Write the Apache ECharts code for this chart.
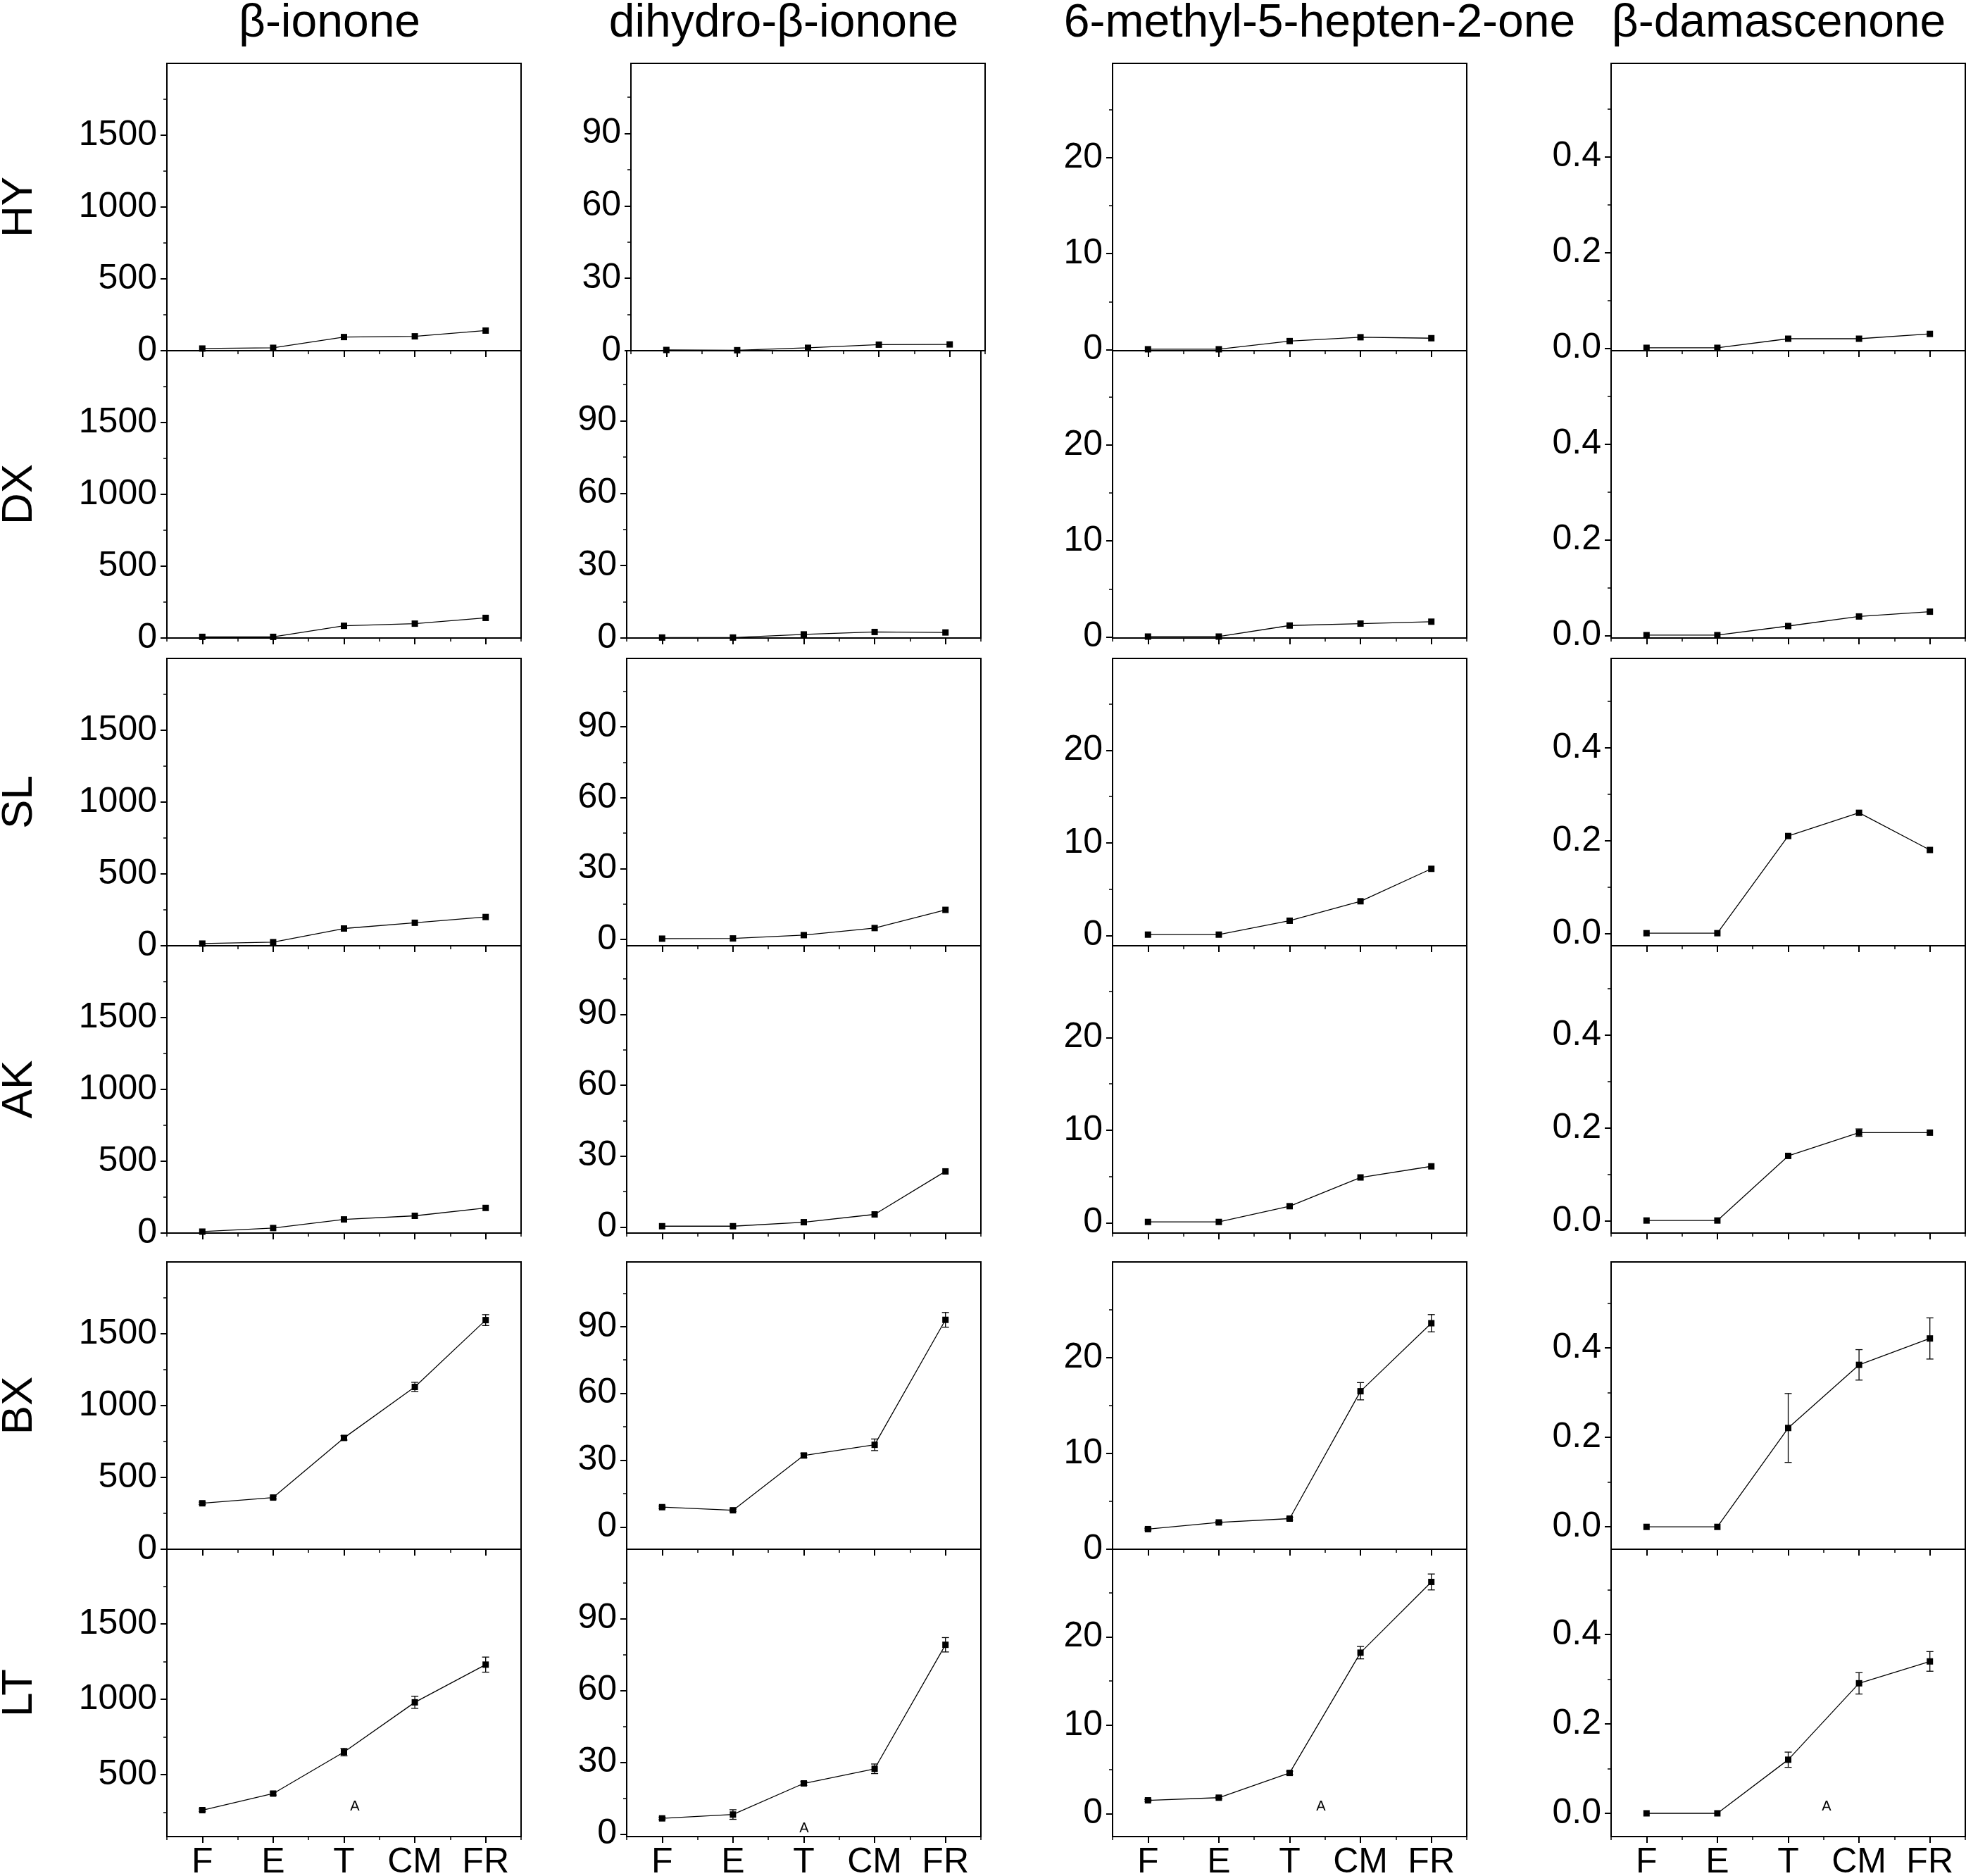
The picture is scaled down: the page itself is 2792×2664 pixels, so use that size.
<!DOCTYPE html>
<html>
<head>
<meta charset="utf-8">
<script src="https://cdn.jsdelivr.net/npm/echarts@6/dist/echarts.min.js"></script>
<style>
html, body { margin: 0; padding: 0; background: #fff; }
#container { width: 2792px; height: 2664px; }
</style>
</head>
<body>
<div id="container"></div>
<script>
var categories = ['F', 'E', 'T', 'CM', 'FR'];
var compounds = ['β-ionone', 'dihydro-β-ionone', '6-methyl-5-hepten-2-one', 'β-damascenone'];
var regions = ['HY', 'DX', 'SL', 'AK', 'BX', 'LT'];

// one row per region, same order as regions
var betaIonone = [
  [15, 20, 95, 100, 140],
  [8, 8, 85, 100, 140],
  [15, 25, 120, 160, 200],
  [10, 35, 95, 120, 175],
  [320, 360, 775, 1130, 1595],
  [265, 375, 650, 980, 1230]
];
var betaIononeErr = [
  [0, 0, 0, 0, 0],
  [0, 0, 0, 0, 0],
  [0, 0, 0, 0, 0],
  [0, 0, 0, 0, 0],
  [8, 10, 15, 32, 38],
  [8, 10, 25, 40, 50]
];

var dihydroIonone = [
  [0.3, 0.2, 1.2, 2.5, 2.6],
  [0.2, 0.2, 1.5, 2.5, 2.3],
  [0.3, 0.4, 1.8, 4.8, 12.5],
  [0.3, 0.3, 2.0, 5.3, 23.5],
  [8.9, 7.5, 32.1, 36.9, 93],
  [6.6, 8.2, 21.2, 27.3, 79.1]
];
var dihydroIononeErr = [
  [0, 0, 0, 0, 0],
  [0, 0, 0, 0, 0],
  [0, 0, 0, 0, 0],
  [0, 0, 0, 0, 0],
  [0.5, 0.5, 1, 2.6, 3.3],
  [0.5, 2, 0.8, 2, 3]
];

var methylHeptenone = [
  [0.05, 0.05, 0.9, 1.3, 1.2],
  [0.05, 0.05, 1.2, 1.4, 1.6],
  [0.1, 0.1, 1.6, 3.7, 7.2],
  [0.1, 0.1, 1.8, 4.9, 6.1],
  [2.1, 2.8, 3.2, 16.5, 23.6],
  [1.5, 1.8, 4.6, 18.2, 26.2]
];
var methylHeptenoneErr = [
  [0, 0, 0, 0, 0],
  [0, 0, 0, 0, 0],
  [0, 0, 0, 0, 0],
  [0, 0, 0, 0, 0],
  [0.1, 0.1, 0.15, 0.9, 0.9],
  [0.1, 0.1, 0.2, 0.7, 0.9]
];

var damascenone = [
  [0.001, 0.001, 0.02, 0.02, 0.03],
  [0.001, 0.001, 0.02, 0.04, 0.05],
  [0.001, 0.001, 0.21, 0.26, 0.18],
  [0.001, 0.001, 0.14, 0.19, 0.19],
  [0, 0, 0.221, 0.362, 0.421],
  [0, 0, 0.12, 0.291, 0.34]
];
var damascenoneErr = [
  [0, 0, 0, 0, 0],
  [0, 0, 0, 0, 0],
  [0, 0, 0, 0, 0],
  [0, 0, 0, 0.008, 0],
  [0, 0, 0.077, 0.034, 0.046],
  [0, 0, 0.017, 0.024, 0.022]
];

var yTicks = [[0, 500, 1000, 1500], [0, 30, 60, 90], [0, 10, 20], [0, 0.2, 0.4]];
var yMinorTicks = [[250, 750, 1250, 1750], [15, 45, 75, 105], [5, 15, 25], [0.1, 0.3, 0.5]];
// axis ranges per compound, one entry per region
var yMin = [
  [0, 0, 0, 0, 0, 90],
  [0, 0, -2.7, -2.6, -10, -1],
  [-0.1, -0.1, -1.1, -1.1, 0, -2.6],
  [-0.005, -0.005, -0.026, -0.026, -0.05, -0.052]
];
var yMax = [
  [2000, 2000, 2000, 2000, 2000, 1995],
  [119, 119, 119, 119, 119, 119],
  [29.8, 29.8, 29.9, 29.9, 30, 29.9],
  [0.595, 0.595, 0.592, 0.592, 0.592, 0.591]
];

var means = [betaIonone, dihydroIonone, methylHeptenone, damascenone];
var errs = [betaIononeErr, dihydroIononeErr, methylHeptenoneErr, damascenoneErr];

// layout
var colLeft = [237, 890, 1580, 2288];
var rowTop = [90, 498, 935, 1343, 1792, 2200];
var panelW = 503, panelH = 408;
var font = 'Liberation Sans, Arial, sans-serif';

function renderErr(params, api) {
  var x = api.value(0);
  var lo = api.coord([x, api.value(1)]);
  var hi = api.coord([x, api.value(2)]);
  var w = 5;
  var st = { stroke: '#000', lineWidth: 1.3 };
  return {
    type: 'group',
    children: [
      { type: 'line', shape: { x1: lo[0], y1: lo[1], x2: hi[0], y2: hi[1] }, style: st },
      { type: 'line', shape: { x1: lo[0] - w, y1: lo[1], x2: lo[0] + w, y2: lo[1] }, style: st },
      { type: 'line', shape: { x1: hi[0] - w, y1: hi[1], x2: hi[0] + w, y2: hi[1] }, style: st }
    ]
  };
}

var grids = [], xAxes = [], yAxes = [], series = [], graphics = [];

for (var c = 0; c < 4; c++) {
  for (var r = 0; r < 6; r++) {
    var p = grids.length;
    var left = colLeft[c] + (c === 1 && r === 0 ? 6 : 0);
    grids.push({
      left: left, top: rowTop[r], width: panelW, height: panelH,
      containLabel: false, outerBoundsMode: 'none',
      show: true, borderColor: '#000', borderWidth: 2, backgroundColor: 'transparent'
    });
    var lo = yMin[c][r], hi = yMax[c][r];
    var major = yTicks[c].filter(function (v) { return v >= lo && v <= hi; });
    var minor = yMinorTicks[c].filter(function (v) { return v >= lo && v <= hi; });
    var dec = c === 3 ? 1 : 0;

    xAxes.push({
      type: 'category', gridIndex: p, data: categories, position: 'bottom',
      boundaryGap: true,
      axisLine: { show: true, onZero: false, lineStyle: { color: '#000', width: 2 } },
      axisTick: { show: true, alignWithLabel: true, interval: 0, length: 9, lineStyle: { color: '#000', width: 2 } },
      axisLabel: { show: r === 5, interval: 0, margin: 12, color: '#000', fontSize: 50, fontFamily: font },
      splitLine: { show: false }
    });
    xAxes.push({
      type: 'category', gridIndex: p, data: categories, position: 'bottom',
      boundaryGap: true,
      axisLine: { show: false, onZero: false },
      axisTick: { show: true, interval: 0, length: 5, lineStyle: { color: '#000', width: 1.5 } },
      axisLabel: { show: false },
      splitLine: { show: false }
    });
    yAxes.push({
      type: 'value', gridIndex: p, position: 'left', min: lo, max: hi,
      axisLine: { show: true, lineStyle: { color: '#000', width: 2 } },
      axisTick: { show: true, length: 9, customValues: major, lineStyle: { color: '#000', width: 2 } },
      axisLabel: {
        show: true, margin: 14, color: '#000', fontSize: 50, fontFamily: font,
        customValues: major,
        formatter: (function (d) { return function (v) { return v.toFixed(d); }; })(dec)
      },
      splitLine: { show: false }
    });
    yAxes.push({
      type: 'value', gridIndex: p, position: 'left', min: lo, max: hi,
      axisLine: { show: false },
      axisTick: { show: true, length: 5, customValues: minor, lineStyle: { color: '#000', width: 1.5 } },
      axisLabel: { show: false, customValues: minor },
      splitLine: { show: false }
    });

    series.push({
      type: 'line', xAxisIndex: 2 * p, yAxisIndex: 2 * p,
      data: means[c][r],
      symbol: 'rect', symbolSize: 9, clip: false,
      itemStyle: { color: '#000' },
      lineStyle: { color: '#000', width: 1.3 },
      animation: false, z: 3
    });

    var errData = [];
    for (var i = 0; i < categories.length; i++) {
      var e = errs[c][r][i];
      if (e > 0) errData.push([i, means[c][r][i] - e, means[c][r][i] + e]);
    }
    if (errData.length) {
      series.push({
        type: 'custom', xAxisIndex: 2 * p, yAxisIndex: 2 * p,
        renderItem: renderErr, data: errData,
        encode: { x: 0, y: [1, 2] }, animation: false, z: 4
      });
    }
  }
}

var titleX = [468, 1113, 1874, 2526];
compounds.forEach(function (name, c) {
  graphics.push({
    type: 'text', x: titleX[c], y: 34,
    style: { text: name, fill: '#000', fontSize: 66, fontFamily: font, align: 'center', verticalAlign: 'middle' }
  });
});
regions.forEach(function (name, r) {
  graphics.push({
    type: 'text', x: 28, y: rowTop[r] + panelH / 2, rotation: Math.PI / 2,
    style: { text: name, fill: '#000', fontSize: 62, fontFamily: font, align: 'center', verticalAlign: 'middle' }
  });
});
// stray "A" marks in the bottom row
var stray = [[504, 2565], [1142, 2596], [1876, 2565], [2594, 2565]];
stray.forEach(function (s) {
  graphics.push({
    type: 'text', x: s[0], y: s[1],
    style: { text: 'A', fill: '#000', fontSize: 20, fontFamily: font, align: 'center', verticalAlign: 'middle' }
  });
});

var option = {
  animation: false,
  backgroundColor: '#fff',
  grid: grids,
  xAxis: xAxes,
  yAxis: yAxes,
  series: series,
  graphic: graphics
};

var myChart = echarts.init(document.getElementById('container'), null, { renderer: 'canvas' });
myChart.setOption(option);
</script>
</body>
</html>
